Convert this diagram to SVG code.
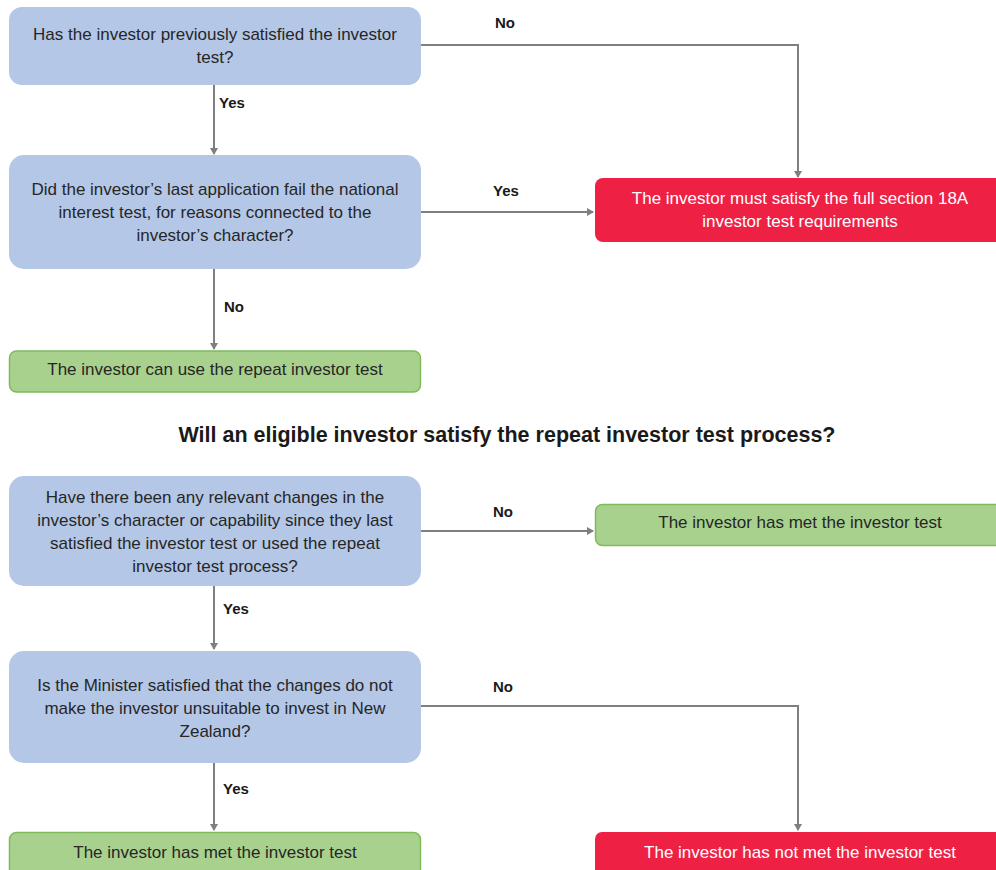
<svg xmlns="http://www.w3.org/2000/svg" width="996" height="870" viewBox="0 0 996 870">
  <defs>
    <marker id="arrow" markerWidth="8" markerHeight="8" refX="6" refY="4" orient="auto" markerUnits="userSpaceOnUse">
      <path d="M0,0 L7,4 L0,8 Z" fill="#7f7f7f"/>
    </marker>
    <style>
      .q { fill: #b4c7e7; }
      .ok { fill: #a9d18e; stroke: #7fbb5a; stroke-width: 1.5; }
      .bad { fill: #ee2145; }
      .t { font-family: "Liberation Sans", Arial, sans-serif; font-size: 17px; fill: #262626; text-anchor: middle; }
      .tw { font-family: "Liberation Sans", Arial, sans-serif; font-size: 17px; fill: #ffffff; text-anchor: middle; }
      .lbl { font-family: "Liberation Sans", Arial, sans-serif; font-size: 15px; font-weight: bold; fill: #1a1a1a; }
      .title { font-family: "Liberation Sans", Arial, sans-serif; font-size: 21.5px; font-weight: bold; fill: #1a1a1a; text-anchor: middle; }
      .edge { fill: none; stroke: #7f7f7f; stroke-width: 2; marker-end: url(#arrow); }
    </style>
  </defs>
  <rect width="996" height="870" fill="#ffffff"/>

  <!-- connectors -->
  <g id="connectors">
    <path class="edge" d="M421,45 H798 V177"/>
    <path class="edge" d="M214,85 V154"/>
    <path class="edge" d="M421,212 H593"/>
    <path class="edge" d="M214,269 V349"/>
    <path class="edge" d="M421,531 H593"/>
    <path class="edge" d="M214,586 V649"/>
    <path class="edge" d="M421,706 H798 V830"/>
    <path class="edge" d="M214,763 V830"/>
    <text class="lbl" x="495" y="28">No</text>
    <text class="lbl" x="219" y="108">Yes</text>
    <text class="lbl" x="493" y="196">Yes</text>
    <text class="lbl" x="224" y="312">No</text>
    <text class="lbl" x="493" y="517">No</text>
    <text class="lbl" x="223" y="614">Yes</text>
    <text class="lbl" x="493" y="692">No</text>
    <text class="lbl" x="223" y="794">Yes</text>
  </g>

  <g id="q-previous">
    <rect class="q" x="9" y="7" width="412" height="78" rx="13"/>
    <text class="t" x="215" y="40">Has the investor previously satisfied the investor</text>
    <text class="t" x="215" y="63">test?</text>
  </g>

  <g id="q-last-application">
    <rect class="q" x="9" y="155" width="412" height="114" rx="15"/>
    <text class="t" x="215" y="195">Did the investor’s last application fail the national</text>
    <text class="t" x="215" y="218">interest test, for reasons connected to the</text>
    <text class="t" x="215" y="241">investor’s character?</text>
  </g>

  <g id="r-full-test">
    <rect class="bad" x="595" y="178" width="412" height="64" rx="8"/>
    <text class="tw" x="800" y="204">The investor must satisfy the full section 18A</text>
    <text class="tw" x="800" y="227">investor test requirements</text>
  </g>

  <g id="r-can-repeat">
    <rect class="ok" x="9.5" y="351" width="411" height="41" rx="7"/>
    <text class="t" x="215" y="375">The investor can use the repeat investor test</text>
  </g>

  <text class="title" x="507" y="442">Will an eligible investor satisfy the repeat investor test process?</text>

  <g id="q-changes">
    <rect class="q" x="9" y="476" width="412" height="110" rx="15"/>
    <text class="t" x="215" y="503">Have there been any relevant changes in the</text>
    <text class="t" x="215" y="526">investor’s character or capability since they last</text>
    <text class="t" x="215" y="549">satisfied the investor test or used the repeat</text>
    <text class="t" x="215" y="572">investor test process?</text>
  </g>

  <g id="r-met-1">
    <rect class="ok" x="595.5" y="504.5" width="412" height="41" rx="7"/>
    <text class="t" x="800" y="528">The investor has met the investor test</text>
  </g>

  <g id="q-minister">
    <rect class="q" x="9" y="651" width="412" height="112" rx="15"/>
    <text class="t" x="215" y="691">Is the Minister satisfied that the changes do not</text>
    <text class="t" x="215" y="714">make the investor unsuitable to invest in New</text>
    <text class="t" x="215" y="737">Zealand?</text>
  </g>

  <g id="r-met-2">
    <rect class="ok" x="9.5" y="832.5" width="411" height="50" rx="7"/>
    <text class="t" x="215" y="858">The investor has met the investor test</text>
  </g>

  <g id="r-not-met">
    <rect class="bad" x="595" y="832" width="412" height="50" rx="7"/>
    <text class="tw" x="800" y="858">The investor has not met the investor test</text>
  </g>
</svg>
